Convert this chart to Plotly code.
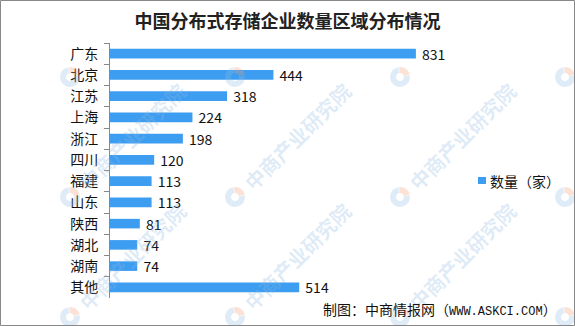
import numpy as np
import plotly.graph_objects as go

categories = ["广东", "北京", "江苏", "上海", "浙江", "四川", "福建", "山东", "陕西", "湖北", "湖南", "其他"]
values = [831, 444, 318, 224, 198, 120, 113, 113, 81, 74, 74, 514]
series_name = "数量（家）"
title_text = "中国分布式存储企业数量区域分布情况"
footer_cn = "制图：中商情报网（"
footer_url = "WWW.ASKCI.COM"
footer_end = "）"
watermark_text = "中商产业研究院"

W, H = 575, 326
L, R, T, B = 110, 105, 43, 28
PW, PH = W - L - R, H - T - B
FONT = "Noto Sans CJK SC"
BAR = "#3d9df0"
WM_BLUE = "rgba(140,185,225,0.28)"
WM_ORANGE = "rgba(245,160,120,0.30)"


def px(x):
    return (x - L) / PW


def py(y):
    return 1 - (y - T) / PH


fig = go.Figure()
fig.add_trace(go.Bar(
    y=categories, x=values, orientation="h",
    marker=dict(color=BAR, line=dict(width=0)),
    text=values, texttemplate=" %{x}", textposition="outside",
    constraintext="none",
    textfont=dict(family=FONT, size=14, color="#111"),
    cliponaxis=False, showlegend=False, name=series_name,
))

shapes = []
annotations = []

# watermarks (logo grid; text only where it fits in the picture)
logo_x = [-95, 70, 235, 400, 565]
logo_y = [77, 197, 317]


def sector(a0, a1, r0, r1, n=16):
    a = np.linspace(np.radians(a0), np.radians(a1), n)
    outer = [(r1 * np.cos(t), r1 * np.sin(t)) for t in a]
    inner = [(r0 * np.cos(t), r0 * np.sin(t)) for t in a[::-1]]
    pts = outer + inner
    return "M" + " L".join(f"{x:.2f},{y:.2f}" for x, y in pts) + " Z"


for lx in logo_x:
    for ly in logo_y:
        cx, cy = lx + 62, ly - 61
        if 5 < cx - 52 and cx + 52 < W - 5 and 5 < cy - 52 and cy + 52 < H - 5:
            annotations.append(dict(
                x=px(cx), y=py(cy), xref="paper", yref="paper",
                text=watermark_text, showarrow=False, textangle=-45,
                xanchor="center", yanchor="middle",
                font=dict(family=FONT, size=20, color=WM_BLUE, weight="bold"),
            ))
        for path, col in [(sector(100, 370, 4, 10), WM_BLUE),
                          (sector(15, 95, 4, 10), WM_ORANGE)]:
            shapes.append(dict(
                type="path", xref="paper", yref="paper",
                xsizemode="pixel", ysizemode="pixel",
                xanchor=px(lx), yanchor=py(ly),
                path=path, fillcolor=col, line=dict(width=0), layer="above",
            ))

# legend swatch + label
shapes.append(dict(type="rect", xref="paper", yref="paper",
                   x0=px(478), x1=px(486), y0=py(184), y1=py(177),
                   fillcolor=BAR, line=dict(width=0)))
annotations.append(dict(x=px(488), y=py(181), xref="paper", yref="paper",
                        text=series_name, showarrow=False, xanchor="left", yanchor="middle",
                        font=dict(family=FONT, size=14, color="#111")))

# footer
footer_html = (footer_cn + '<span style="font-family:Liberation Mono;font-size:12px">'
               + footer_url + "</span>" + footer_end)
annotations.append(dict(x=px(559), y=py(309), xref="paper", yref="paper",
                        text=footer_html, showarrow=False, xanchor="right", yanchor="middle",
                        font=dict(family=FONT, size=14, color="#111")))

# border
shapes.append(dict(type="rect", xref="paper", yref="paper",
                   x0=px(0.5), x1=px(W - 0.5), y0=py(H - 0.5), y1=py(0.5),
                   line=dict(color="#888", width=1), fillcolor="rgba(0,0,0,0)"))

fig.update_layout(
    width=W, height=H,
    margin=dict(l=L, r=R, t=T, b=B),
    paper_bgcolor="white", plot_bgcolor="white",
    title=dict(text=title_text, x=0.5, xanchor="center", y=1 - 22 / H, yanchor="middle",
               xref="container", yref="container",
               font=dict(family=FONT, size=18, color="#222", weight="bold")),
    bargap=0.55,
    xaxis=dict(visible=False, range=[0, 978]),
    yaxis=dict(range=[11.5, -0.5], showline=True, linecolor="#888", linewidth=1,
               ticks="outside", tickson="boundaries", ticklen=5, tickcolor="#888",
               ticklabelstandoff=8, showgrid=False, zeroline=False,
               tickfont=dict(family=FONT, size=14, color="#111")),
    shapes=shapes, annotations=annotations,
    showlegend=False,
)

fig.write_html("out.html")
